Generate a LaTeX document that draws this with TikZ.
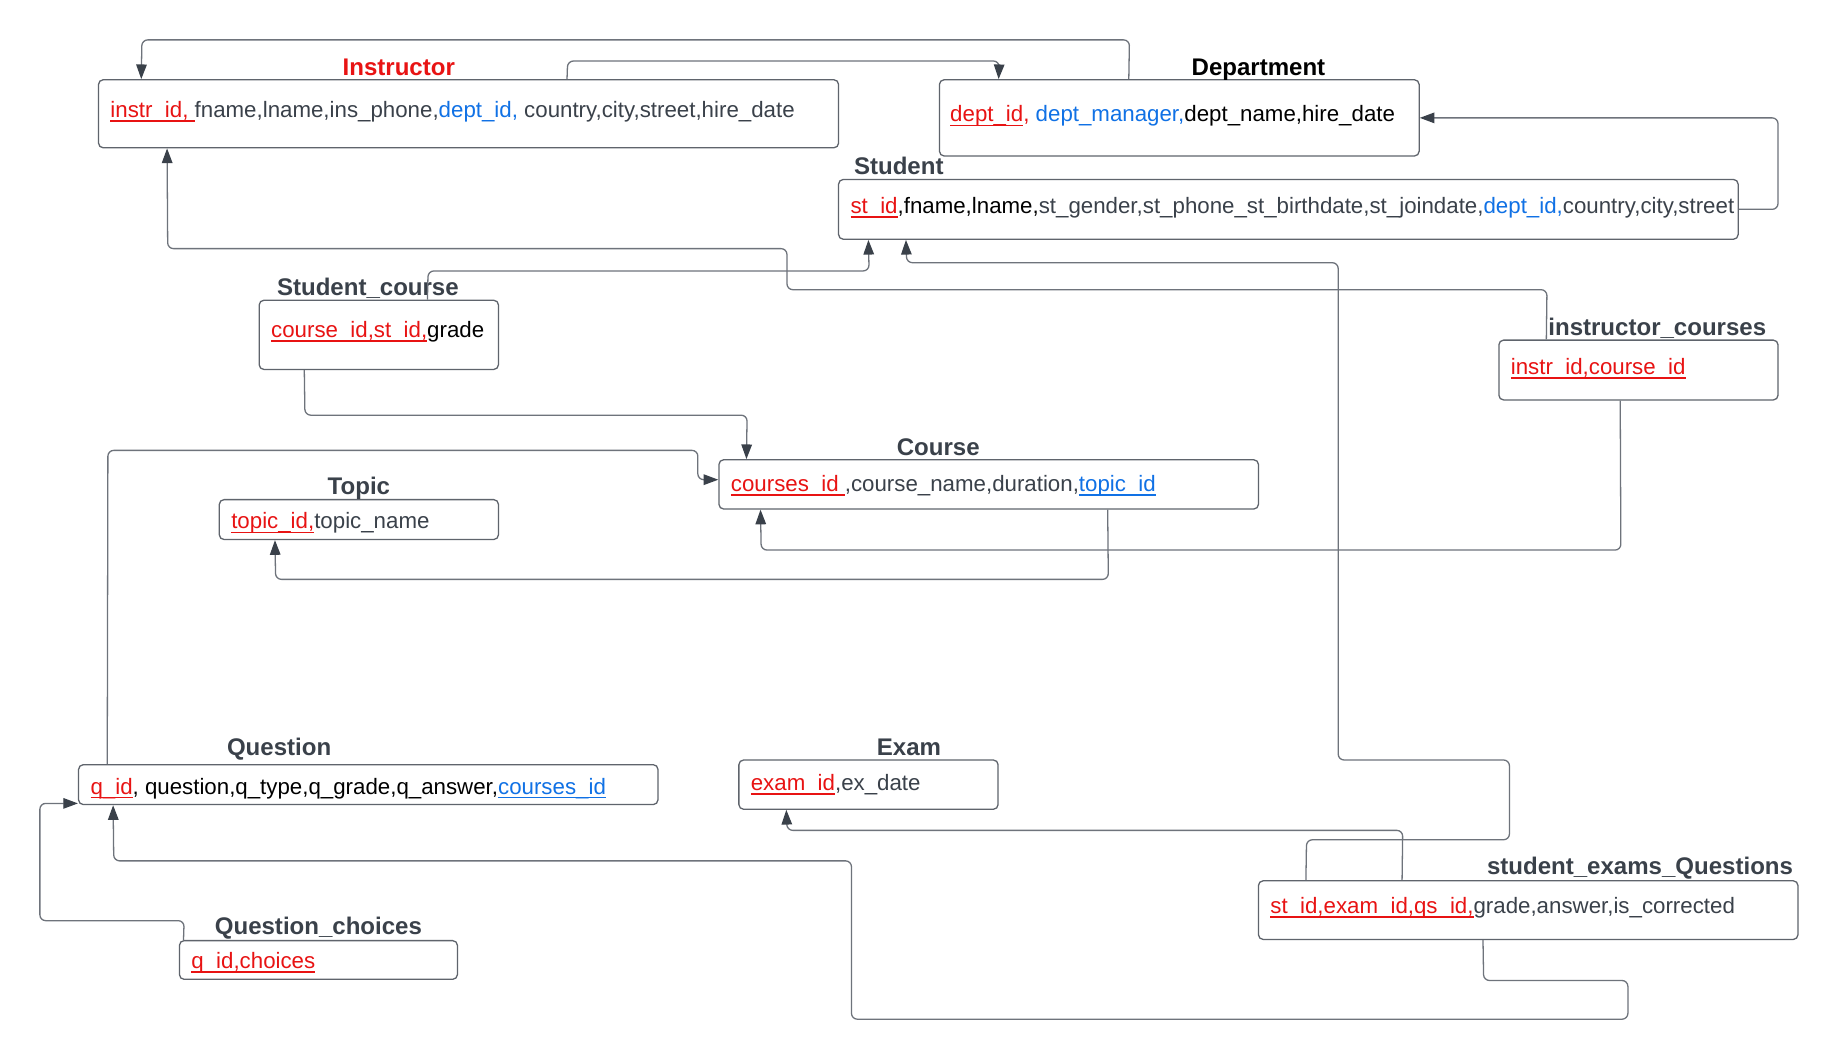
\documentclass[tikz,border=0pt]{standalone}
\usepackage{fontspec}
\setmainfont{Liberation Sans}
\usetikzlibrary{arrows.meta,calc}

\definecolor{pkred}{HTML}{E81313}
\definecolor{fkblue}{HTML}{1071E5}
\definecolor{ink}{HTML}{3A414A}
\definecolor{edge}{HTML}{5F646C}
\definecolor{wire}{HTML}{6E737B}

% underlined key columns
\newcommand\keyline[1]{\setbox0\hbox{#1}\rlap{\rule[-3.8pt]{\wd0}{1.6pt}}\box0}
\newcommand\pk[1]{\textcolor{pkred}{\keyline{#1}}}
\newcommand\fk[1]{\textcolor{fkblue}{\keyline{#1}}}

\begin{document}
\begin{tikzpicture}[x=1pt,y=-1pt,
  tabbox/.style={draw=edge, line width=1.1pt, rounded corners=4pt, fill=white, inner sep=0pt},
  tabtitle/.style={anchor=base, inner sep=0pt, font=\fontsize{20.5}{24}\selectfont\bfseries, text=ink},
  tabbody/.style={anchor=base west, inner sep=0pt, font=\fontsize{19}{22}\selectfont, text=ink},
  link/.style={draw=wire, line width=1.1pt, rounded corners=5pt, -{Triangle[length=12.5pt,width=9pt,color=ink]}}]

\fill[white] (0,0) rectangle (1568,905);
\useasboundingbox (0,0) rectangle (1568,905);

% tables
\node[tabbox, minimum width=631pt, minimum height=58pt] (instr)  at (399.5,97)  {};
\node[tabbox, minimum width=409pt, minimum height=65pt] (dept)   at (1005.5,100.5) {};
\node[tabbox, minimum width=767pt, minimum height=51pt] (stud)   at (1098.5,178.5) {};
\node[tabbox, minimum width=204pt, minimum height=59pt] (stco)   at (323,285.5) {};
\node[tabbox, minimum width=238pt, minimum height=51pt] (inco)   at (1397,315.5) {};
\node[tabbox, minimum width=460pt, minimum height=42pt] (course) at (843,413) {};
\node[tabbox, minimum width=238pt, minimum height=34pt] (topic)  at (306,443) {};
\node[tabbox, minimum width=494pt, minimum height=34pt] (quest)  at (314,669) {};
\node[tabbox, minimum width=221pt, minimum height=42pt] (exam)   at (740.5,669) {};
\node[tabbox, minimum width=460pt, minimum height=50pt] (seq)    at (1303,776) {};
\node[tabbox, minimum width=237pt, minimum height=33pt] (qch)    at (271.5,818.5) {};

% table names
\node[tabtitle, text=pkred] (instrT) at (340,64) {Instructor};
\node[tabtitle, text=black] (deptT) at (1073,64) {Department};
\node[tabtitle, anchor=base west] (studT) at (728,149) {Student};
\node[tabtitle, anchor=base west] (stcoT) at (236,252) {Student\_course};
\node[tabtitle, anchor=base west] (incoT) at (1320,286) {instructor\_courses};
\node[tabtitle] (courseT) at (800,388) {Course};
\node[tabtitle] (topicT) at (306,422) {Topic};
\node[tabtitle] (questT) at (238,644) {Question};
\node[tabtitle] (examT) at (775,644) {Exam};
\node[tabtitle, anchor=base east] (seqT) at (1529,746) {student\_exams\_Questions};
\node[tabtitle, anchor=base west] (qchT) at (183,797) {Question\_choices};

% columns
\node[tabbody] (instrB) at (94,100) {\pk{instr\_id,\ }fname,lname,ins\_phone,\textcolor{fkblue}{dept\_id,} country,city,street,hire\_date};
\node[tabbody, text=black] (deptB) at (810,104) {\pk{dept\_id}\textcolor{pkred}{,} \textcolor{fkblue}{dept\_manager,}dept\_name,hire\_date};
\node[tabbody] (studB) at (725,182) {\pk{st\_id}\textcolor{black}{,fname,lname,}st\_gender,st\_phone\_st\_birthdate,st\_joindate,\textcolor{fkblue}{dept\_id,}country,city,street};
\node[tabbody, text=black] (stcoB) at (231,288) {\pk{course\_id,st\_id,}grade};
\node[tabbody] (incoB) at (1288,319) {\pk{instr\_id,course\_id}};
\node[tabbody] (courseB) at (623,419) {\pk{courses\_id\ },course\_name,duration,\fk{topic\_id}};
\node[tabbody] (topicB) at (197,451) {\pk{topic\_id,}topic\_name};
\node[tabbody, text=black] (questB) at (77,677) {\pk{q\_id}, question,q\_type,q\_grade,q\_answer,\fk{courses\_id}};
\node[tabbody] (examB) at (640,674) {\pk{exam\_id},ex\_date};
\node[tabbody] (seqB) at (1083,779) {\pk{st\_id,exam\_id,qs\_id,}grade,answer,is\_corrected};
\node[tabbody] (qchB) at (163,826) {\pk{q\_id,choices}};

% relationships
\draw[link] ($(dept.north west)+(162,0)$) -- (963,34) -- (121,34) -- ($(instr.north west)+(37,0)$);
\draw[link] ($(instr.north west)+(400,0)$) -- (484,52) -- (852,52) -- ($(dept.north west)+(51,0)$);
\draw[link] (stud.east) -- (1516,178.5) -- (1516,100.5) -- (dept.east);
\draw[link] ($(inco.north west)+(41,0)$) -- (1319,247) -- (671,247) -- (671,212) -- (143,212) -- ($(instr.south west)+(59,0)$);
\draw[link] ($(stco.north west)+(144,0)$) -- (365,231) -- (741,231) -- ($(stud.south west)+(26,0)$);
\draw[link] ($(stco.south west)+(39,0)$) -- (260,354) -- (637,354) -- ($(course.north west)+(24,0)$);
\draw[link] ($(quest.north west)+(25,0)$) -- (92,384) -- (595,384) -- (595,409) -- ($(course.west)+(0,-4)$);
\draw[link] ($(course.south west)+(332,0)$) -- (945,494) -- (235,494) -- ($(topic.south west)+(48,0)$);
\draw[link] ($(inco.south west)+(104,0)$) -- (1382,469) -- (649,469) -- ($(course.south west)+(36,0)$);
\draw[link] ($(seq.north west)+(41,0)$) -- (1114,716) -- (1287,716) -- (1287,648) -- (1141,648) -- (1141,224) -- (773,224) -- ($(stud.south west)+(58,0)$);
\draw[link] ($(seq.north west)+(123,0)$) -- (1196,708) -- (671,708) -- ($(exam.south west)+(41,0)$);
\draw[link] ($(seq.south west)+(192,0)$) -- (1265,836) -- (1388,836) -- (1388,869) -- (726,869) -- (726,734) -- (97,734) -- ($(quest.south west)+(30,0)$);
\draw[link] ($(qch.north west)+(4,0)$) -- (157,785) -- (34,785) -- (34,685) -- ($(quest.west)+(0,16)$);

\end{tikzpicture}
\end{document}
